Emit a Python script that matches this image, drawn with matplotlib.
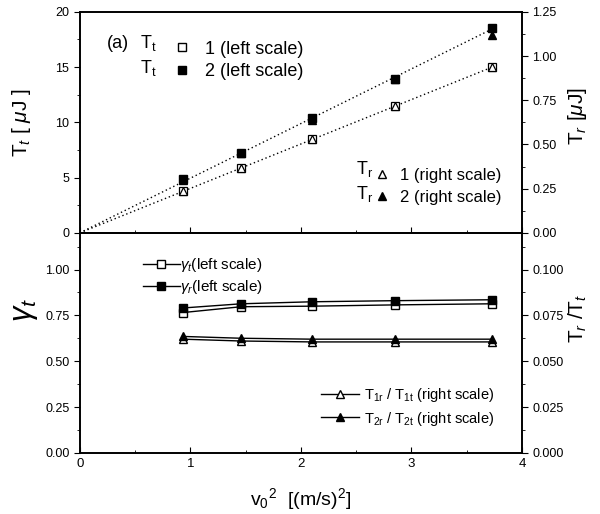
import numpy as np
import matplotlib
matplotlib.use("Agg")
from matplotlib import pyplot as plt
from matplotlib.lines import Line2D

plt.rcParams['font.family'] = ['Liberation Sans', 'DejaVu Sans']
plt.rcParams['mathtext.fontset'] = 'custom'
plt.rcParams['mathtext.rm'] = 'Liberation Sans'
plt.rcParams['mathtext.it'] = 'Liberation Sans:italic'

#------------------------------------------------
# data

v2 = [0.93, 1.46, 2.10, 2.85, 3.73]

# (a) energies
Tt1 = [3.75, 5.85, 8.45, 11.45, 15.0]
Tt2 = [4.85, 7.25, 10.35, 13.95, 18.5]
Tr1 = [0.235, 0.365, 0.53, 0.715, 0.94]
Tr2 = [0.30, 0.45, 0.64, 0.87, 1.12]

# (b) ratios
gamma_t = [0.765, 0.797, 0.800, 0.807, 0.813]
gamma_r = [0.790, 0.813, 0.824, 0.830, 0.835]
ratio1 = [0.0620, 0.0610, 0.0605, 0.0605, 0.0605]
ratio2 = [0.0635, 0.0625, 0.0620, 0.0620, 0.0620]

#------------------------------------------------

fig = plt.figure(figsize=(6.0, 5.14), dpi=100)
ax1 = fig.add_axes([0.133, 0.547, 0.737, 0.430])
ax2 = fig.add_axes([0.133, 0.119, 0.737, 0.428], sharex=ax1)
ax1r = ax1.twinx()
ax2r = ax2.twinx()

ms = 6
tick_fs = 9

# panel (a): dotted fits through origin
x = np.array(v2)
xfit = np.linspace(0, x[-1], 50)
for y in (Tt1, Tt2):
    k = np.sum(x * np.array(y)) / np.sum(x * x)
    ax1.plot(xfit, k * xfit, ls=(0, (1, 2)), color='black', lw=1.0)

ax1.plot(v2, Tt1, 's', mfc='white', mec='black', ms=ms, mew=0.9)
ax1.plot(v2, Tt2, 's', mfc='black', mec='black', ms=ms)
ax1r.plot(v2, Tr1, '^', mfc='white', mec='black', ms=ms, mew=0.9)
ax1r.plot(v2, Tr2, '^', mfc='black', mec='black', ms=ms)

ax1.set_xlim(0, 4)
ax1.set_ylim(0, 20)
ax1r.set_ylim(0, 1.25)
ax1.set_yticks([0, 5, 10, 15, 20])
ax1.set_yticks([2.5, 7.5, 12.5, 17.5], minor=True)
ax1r.set_yticks([0, 0.25, 0.5, 0.75, 1.0, 1.25])
ax1r.set_yticks(np.arange(0.125, 1.25, 0.25), minor=True)
ax1r.set_yticklabels(['0.00', '0.25', '0.50', '0.75', '1.00', '1.25'])
ax1.set_ylabel(r'T$_{\it{t}}$ [ $\mu$J ]', fontsize=15)
ax1r.set_ylabel(r'T$_{\it{r}}$ [$\mu$J]', fontsize=15, rotation=90)
ax1.yaxis.set_label_coords(-0.105, 0.5)
ax1r.yaxis.set_label_coords(1.1, 0.53)
ax1.tick_params(labelbottom=False)

# legends of panel (a)
ax1.text(0.062, 0.835, '(a)', transform=ax1.transAxes, fontsize=13)
ax1.text(0.137, 0.835, r'T$_\mathregular{t}$', transform=ax1.transAxes, fontsize=13)
ax1.text(0.137, 0.725, r'T$_\mathregular{t}$', transform=ax1.transAxes, fontsize=13)
hA = [Line2D([], [], ls='', marker='s', mfc='white', mec='black', ms=ms),
      Line2D([], [], ls='', marker='s', mfc='black', mec='black', ms=ms)]
ax1.legend(hA, ['1 (left scale)', '2 (left scale)'], loc='upper left',
           bbox_to_anchor=(0.19, 0.91), frameon=False, fontsize=13,
           handlelength=1.0, handletextpad=0.8, labelspacing=0.3, borderpad=0)
ax1.text(0.625, 0.265, r'T$_\mathregular{r}$', transform=ax1.transAxes, fontsize=13)
ax1.text(0.625, 0.155, r'T$_\mathregular{r}$', transform=ax1.transAxes, fontsize=13)
hB = [Line2D([], [], ls='', marker='^', mfc='white', mec='black', ms=ms),
      Line2D([], [], ls='', marker='^', mfc='black', mec='black', ms=ms)]
ax1r.legend(hB, ['1 (right scale)', '2 (right scale)'], loc='upper left',
            bbox_to_anchor=(0.645, 0.33), frameon=False, fontsize=12,
            handlelength=1.0, handletextpad=0.6, labelspacing=0.4, borderpad=0)

# panel (b)
ax2.plot(v2, gamma_t, '-s', color='black', mfc='white', mec='black', ms=ms, lw=1.0)
ax2.plot(v2, gamma_r, '-s', color='black', mfc='black', mec='black', ms=ms, lw=1.0)
ax2r.plot(v2, ratio1, '-^', color='black', mfc='white', mec='black', ms=ms, lw=1.0)
ax2r.plot(v2, ratio2, '-^', color='black', mfc='black', mec='black', ms=ms, lw=1.0)

ax2.set_ylim(0, 1.2)
ax2r.set_ylim(0, 0.12)
ax2.set_yticks([0, 0.25, 0.5, 0.75, 1.0])
ax2.set_yticks([0.125, 0.375, 0.625, 0.875, 1.125], minor=True)
ax2.set_yticklabels(['0.00', '0.25', '0.50', '0.75', '1.00'])
ax2r.set_yticks([0, 0.025, 0.05, 0.075, 0.1])
ax2r.set_yticks([0.0125, 0.0375, 0.0625, 0.0875, 0.1125], minor=True)
ax2r.set_yticklabels(['0.000', '0.025', '0.050', '0.075', '0.100'])
ax2.set_xticks([0, 1, 2, 3, 4])
ax2.set_xticks([0.5, 1.5, 2.5, 3.5], minor=True)
ax2.set_ylabel(r'$\gamma_{\it{t}}$', fontsize=22)
ax2.yaxis.set_label_coords(-0.09, 0.65)
ax2r.set_ylabel(r'T$_{\it{r}}$ /T$_{\it{t}}$', fontsize=15, rotation=90)
ax2r.yaxis.set_label_coords(1.1, 0.61)
ax2.set_xlabel(r'v$_\mathregular{0}$$^\mathregular{2}$  [(m/s)$^\mathregular{2}$]', fontsize=14, labelpad=12)

hC = [Line2D([], [], color='black', lw=1.0, marker='s', mfc='white', mec='black', ms=ms),
      Line2D([], [], color='black', lw=1.0, marker='s', mfc='black', mec='black', ms=ms)]
ax2.legend(hC, [r'$\gamma_{\it{t}}$(left scale)', r'$\gamma_{\it{r}}$(left scale)'],
           loc='upper left', bbox_to_anchor=(0.126, 0.93), frameon=False,
           fontsize=11, handlelength=2.4, handletextpad=0.0, labelspacing=0.3,
           borderpad=0)
hD = [Line2D([], [], color='black', lw=1.0, marker='^', mfc='white', mec='black', ms=ms),
      Line2D([], [], color='black', lw=1.0, marker='^', mfc='black', mec='black', ms=ms)]
ax2r.legend(hD, [r'T$_\mathregular{1r}$ / T$_\mathregular{1t}$ (right scale)',
                 r'T$_\mathregular{2r}$ / T$_\mathregular{2t}$ (right scale)'],
            loc='upper left', bbox_to_anchor=(0.53, 0.335), frameon=False,
            fontsize=10.5, handlelength=2.6, handletextpad=0.3, labelspacing=0.35,
            borderpad=0)

# ticks: x inward, y outward
for a in (ax1, ax2):
    a.tick_params(axis='x', which='both', direction='in', top=False, labelsize=tick_fs + 0.5)
    a.tick_params(axis='x', which='major', length=4)
    a.tick_params(axis='x', which='minor', length=2.5)
    a.tick_params(axis='y', which='major', direction='out', length=4, labelsize=tick_fs)
    a.tick_params(axis='y', which='minor', direction='out', length=2.5)
for a in (ax1r, ax2r):
    a.tick_params(axis='y', which='major', direction='out', length=4, labelsize=tick_fs)
    a.tick_params(axis='y', which='minor', direction='out', length=2.5)
for a in (ax1, ax2, ax1r, ax2r):
    for s in a.spines.values():
        s.set_linewidth(1.2)

plt.savefig('out.png', dpi=100)
